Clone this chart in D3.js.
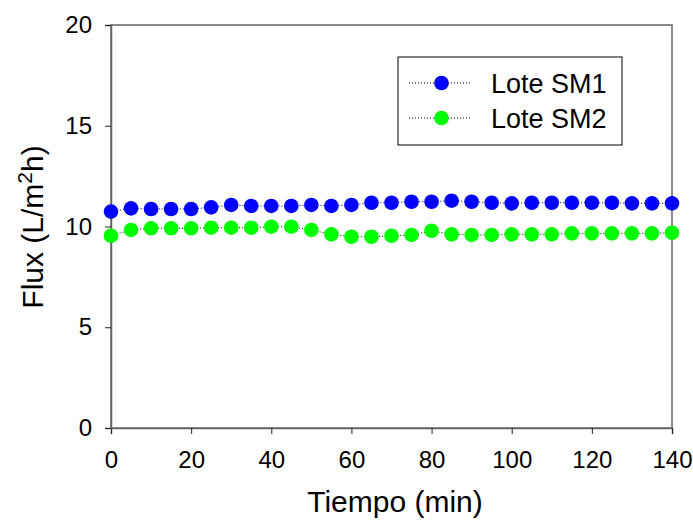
<!DOCTYPE html>
<html><head><meta charset="utf-8">
<script src="https://cdn.jsdelivr.net/npm/d3@7"></script>
<style>body{margin:0;background:#fff;} svg{display:block;font-family:"Liberation Sans",Arial,sans-serif;}</style>
</head><body>
<svg id="c" width="693" height="520"></svg>
<script>
const times = [0,5,10,15,20,25,30,35,40,45,50,55,60,65,70,75,80,85,90,95,100,105,110,115,120,125,130,135,140];
const sm1 = [10.74,10.90,10.87,10.87,10.87,10.95,11.07,11.02,11.02,11.02,11.07,11.02,11.07,11.18,11.18,11.23,11.23,11.28,11.23,11.18,11.15,11.18,11.18,11.18,11.18,11.18,11.15,11.15,11.15];
const sm2 = [9.54,9.83,9.91,9.91,9.91,9.94,9.94,9.94,9.99,9.99,9.83,9.61,9.49,9.49,9.54,9.58,9.79,9.61,9.58,9.58,9.61,9.61,9.61,9.66,9.66,9.66,9.66,9.66,9.69];
const xTicks = [0,20,40,60,80,100,120,140];
const yTicks = [0,5,10,15,20];
const seriesNames = ["Lote SM1","Lote SM2"];
const seriesColors = ["#0000ff","#00ff00"];

const svg = d3.select("#c");
const L=111, R=672, T=25, B=428;
const x = d3.scaleLinear().domain([0,140]).range([L,R]);
const y = d3.scaleLinear().domain([0,20]).range([B,T]);

// frame
svg.append("rect").attr("x",L).attr("y",T).attr("width",R-L).attr("height",B-T)
  .attr("fill","none").attr("stroke","#666").attr("stroke-width",1.5);

const xAxis = svg.append("g").attr("transform",`translate(0,${B})`)
  .call(d3.axisBottom(x).tickValues(xTicks).tickSize(6).tickPadding(17));
const yAxis = svg.append("g").attr("transform",`translate(${L},0)`)
  .call(d3.axisLeft(y).tickValues(yTicks).tickSize(6).tickPadding(13));
[xAxis,yAxis].forEach(g=>{
  g.select(".domain").attr("stroke","#666").attr("stroke-width",1.5);
  g.selectAll(".tick line").attr("stroke","#222").attr("stroke-width",1);
  g.selectAll(".tick text").attr("font-size",24).attr("fill","#000")
   .attr("font-family","Liberation Sans, Arial, sans-serif");
});

const datasets = [sm1, sm2];
const line = d3.line().x((d,i)=>x(times[i])).y(d=>y(d));
datasets.forEach((vals,k)=>{
  svg.append("path").datum(vals).attr("d",line).attr("fill","none")
    .attr("stroke","#000").attr("stroke-width",1).attr("stroke-dasharray","1,2");
  svg.append("g").selectAll("circle").data(vals).join("circle")
    .attr("cx",(d,i)=>x(times[i])).attr("cy",d=>y(d)).attr("r",7.3)
    .attr("fill",seriesColors[k]);
});

// legend
const lg = svg.append("g");
lg.append("rect").attr("x",398).attr("y",57).attr("width",224).attr("height",88)
  .attr("fill","#fff").attr("stroke","#000").attr("stroke-width",1);
seriesNames.forEach((n,k)=>{
  const yy = 83 + k*35;
  lg.append("line").attr("x1",409).attr("x2",471).attr("y1",yy).attr("y2",yy)
    .attr("stroke","#000").attr("stroke-width",1).attr("stroke-dasharray","1,2");
  lg.append("circle").attr("cx",441.5).attr("cy",yy).attr("r",7.3).attr("fill",seriesColors[k]);
  lg.append("text").attr("x",491).attr("y",yy+9.5).attr("font-size",27).text(n);
});

// axis titles
svg.append("text").attr("x",395).attr("y",512).attr("text-anchor","middle")
  .attr("font-size",30).text("Tiempo (min)");
const yt = svg.append("text").attr("transform",`translate(43,227) rotate(-90)`)
  .attr("text-anchor","middle").attr("font-size",30);
yt.append("tspan").text("Flux (L/m");
yt.append("tspan").attr("font-size",21).attr("dy",-11).text("2");
yt.append("tspan").attr("dy",11).text("h)");
</script>
</body></html>
